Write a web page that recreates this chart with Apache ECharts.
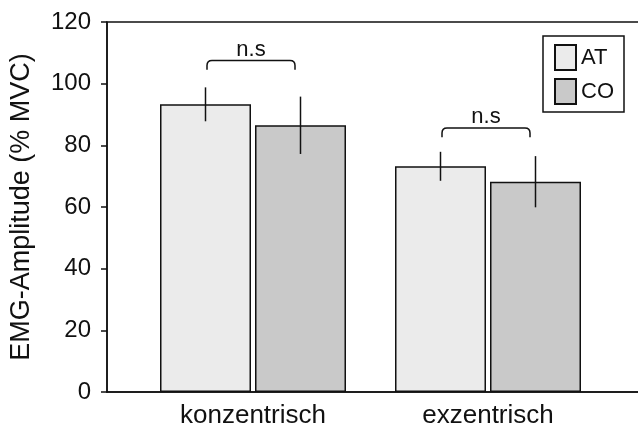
<!DOCTYPE html>
<html>
<head>
<meta charset="utf-8">
<script src="https://cdn.jsdelivr.net/npm/echarts@6/dist/echarts.min.js"></script>
<style>html,body{margin:0;padding:0;background:#fff;}#c{width:638px;height:425px;}</style>
</head>
<body>
<div id="c"></div>
<script>
const categories = ['konzentrisch', 'exzentrisch'];
const seriesNames = ['AT', 'CO'];
const atValues = [93.3, 73.2];
const coValues = [86.5, 68.2];
const atErrors = [5.5, 4.7];
const coErrors = [9.3, 8.3];
const bracketTop = [107.5, 85.6];
const bracketLabels = ['n.s', 'n.s'];
const yTicks = [0, 20, 40, 60, 80, 100, 120];

const FONT = '"Liberation Sans", Arial, Helvetica, sans-serif';
const INK = '#111';
const BAR_W = 91, BAR_GAP = 4;
const OFF = (BAR_W + BAR_GAP) / 2;

const chart = echarts.init(document.getElementById('c'), null, {renderer: 'canvas'});

function errRender(offsetSign, values, errors) {
  return function (params, api) {
    const i = api.value(0);
    const v = values[i], e = errors[i];
    const top = api.coord([i, v + e]);
    const bot = api.coord([i, v - e]);
    const x = top[0] + offsetSign * OFF;
    return {
      type: 'line',
      shape: {x1: x, y1: top[1], x2: x, y2: bot[1]},
      style: {stroke: INK, lineWidth: 1.5}
    };
  };
}

function bracketRender(params, api) {
  const i = api.value(0);
  const t = api.coord([i, bracketTop[i]]);
  const e = api.coord([i, bracketTop[i] - 3]);
  const cx = t[0] - 2;
  const l = cx - 44, r = cx + 44, y = t[1], yb = e[1], rad = 5;
  const d = 'M' + l + ' ' + yb + ' L' + l + ' ' + (y + rad) +
    ' Q' + l + ' ' + y + ' ' + (l + rad) + ' ' + y +
    ' L' + (r - rad) + ' ' + y +
    ' Q' + r + ' ' + y + ' ' + r + ' ' + (y + rad) +
    ' L' + r + ' ' + yb;
  return {
    type: 'group',
    children: [
      {type: 'path', shape: {pathData: d}, style: {stroke: INK, lineWidth: 1.5, fill: null}},
      {type: 'text', x: cx, y: y - 11, style: {text: bracketLabels[i], font: '22px ' + FONT, fill: INK, align: 'center', verticalAlign: 'middle'}}
    ]
  };
}

const option = {
  animation: false,
  backgroundColor: '#fff',
  textStyle: {fontFamily: FONT},
  grid: [
    {left: 107, top: 22, right: -2, bottom: 33, outerBoundsMode: 'none', containLabel: false, show: true, borderColor: INK, borderWidth: 1.5, backgroundColor: 'transparent'},
    {left: 135.5, top: 22, width: 470, bottom: 33, outerBoundsMode: 'none', containLabel: false}
  ],
  legend: {
    data: seriesNames,
    orient: 'vertical',
    left: 543, top: 36,
    padding: [8, 10, 7, 11],
    itemGap: 7,
    itemWidth: 21, itemHeight: 25,
    borderColor: INK, borderWidth: 1.5,
    icon: 'rect',
    textStyle: {fontSize: 22, color: INK, fontFamily: FONT}
  },
  xAxis: [
    {gridIndex: 0, type: 'value', min: 0, max: 1, axisLine: {show: true, lineStyle: {color: INK, width: 1.5}}, axisTick: {show: false}, axisLabel: {show: false}, splitLine: {show: false}},
    {gridIndex: 1, type: 'category', data: categories, axisLine: {show: false}, axisTick: {show: false},
     axisLabel: {fontSize: 26, color: INK, fontFamily: FONT, margin: 11}}
  ],
  yAxis: [
    {gridIndex: 0, type: 'value', min: 0, max: 120, interval: 20,
     name: 'EMG-Amplitude (% MVC)', nameLocation: 'middle', nameGap: 72, nameRotate: 90,
     nameTextStyle: {fontSize: 27, color: INK, fontFamily: FONT},
     axisLine: {show: true, lineStyle: {color: INK, width: 1.5}},
     axisTick: {show: true, length: 6, lineStyle: {color: INK, width: 1.5}},
     axisLabel: {fontSize: 24, color: INK, fontFamily: FONT, margin: 16},
     splitLine: {show: false}},
    {gridIndex: 1, type: 'value', min: 0, max: 120, interval: 20, show: false, splitLine: {show: false}}
  ],
  series: [
    {name: 'AT', type: 'bar', xAxisIndex: 1, yAxisIndex: 1, data: atValues, barWidth: BAR_W, barGap: (BAR_GAP / BAR_W * 100) + '%',
     itemStyle: {color: '#ebebeb', borderColor: INK, borderWidth: 1.5}},
    {name: 'CO', type: 'bar', xAxisIndex: 1, yAxisIndex: 1, data: coValues, barWidth: BAR_W,
     itemStyle: {color: '#c9c9c9', borderColor: INK, borderWidth: 1.5}},
    {type: 'custom', xAxisIndex: 1, yAxisIndex: 1, data: categories.map((c, i) => [i]), renderItem: errRender(-1, atValues, atErrors), z: 5},
    {type: 'custom', xAxisIndex: 1, yAxisIndex: 1, data: categories.map((c, i) => [i]), renderItem: errRender(1, coValues, coErrors), z: 5},
    {type: 'custom', xAxisIndex: 1, yAxisIndex: 1, data: categories.map((c, i) => [i]), renderItem: bracketRender, z: 5}
  ]
};
chart.setOption(option);
</script>
</body>
</html>
